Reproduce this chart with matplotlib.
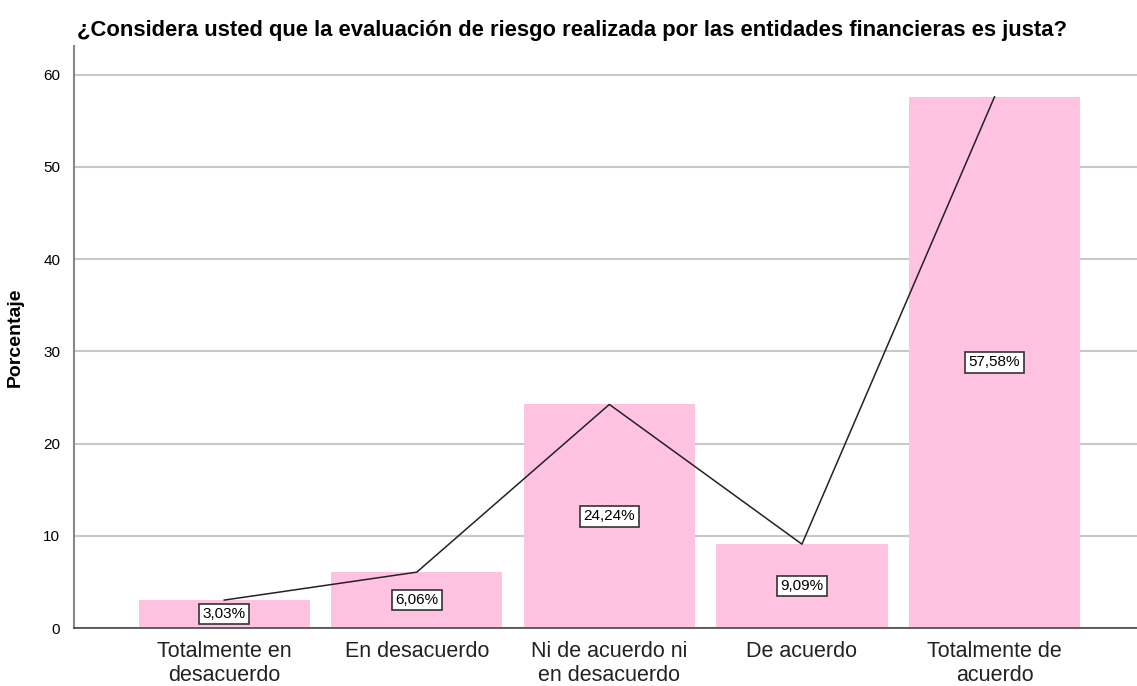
import matplotlib
matplotlib.use("Agg")
import matplotlib.pyplot as plt

categorias = ["Totalmente en\ndesacuerdo", "En desacuerdo", "Ni de acuerdo ni\nen desacuerdo",
              "De acuerdo", "Totalmente de\nacuerdo"]
porcentajes = [3.03, 6.06, 24.24, 9.09, 57.58]
etiquetas = ["3,03%", "6,06%", "24,24%", "9,09%", "57,58%"]
yticks = [0, 10, 20, 30, 40, 50, 60]

plt.rcParams['font.family'] = ['Liberation Sans', 'DejaVu Sans']

fig = plt.figure(figsize=(11.37, 6.86), dpi=100)
ax = fig.add_axes([0.0651, 0.0845, 0.9349, 0.8485])

x = list(range(len(categorias)))
ax.bar(x, porcentajes, width=0.89, color='#ffc2e0', zorder=2)
ax.plot(x, porcentajes, color='#222222', linewidth=1.1, zorder=3)

for xi, v, t in zip(x, porcentajes, etiquetas):
    ax.text(xi, v / 2, t, ha='center', va='center', fontsize=11, zorder=4,
            bbox=dict(boxstyle='square,pad=0.22', facecolor='white', edgecolor='#333333', linewidth=1.2))

ax.set_xlim(-0.78, 4.74)
ax.set_ylim(0, 63.1)
ax.set_yticks(yticks)
ax.set_yticklabels([str(t) for t in yticks], fontsize=11)
ax.set_xticks(x)
ax.set_xticklabels(categorias, fontsize=15.5, color='#222222', linespacing=1.22)
ax.tick_params(axis='y', length=0, pad=10)
ax.tick_params(axis='x', length=0, pad=9)
ax.grid(axis='y', color='#c8c8c8', linewidth=1.5, zorder=0)

for s in ['top', 'right']:
    ax.spines[s].set_visible(False)
ax.spines['left'].set_color('#888888')
ax.spines['left'].set_linewidth(1.5)
ax.spines['bottom'].set_color('#444444')
ax.spines['bottom'].set_linewidth(1.2)

ax.set_ylabel("Porcentaje", fontsize=14, fontweight='bold', labelpad=14)
fig.text(0.068, 0.955, "¿Considera usted que la evaluación de riesgo realizada por las entidades financieras es justa?",
         fontsize=15.8, fontweight='bold', va='center', ha='left')

fig.savefig("out.png", dpi=100)
